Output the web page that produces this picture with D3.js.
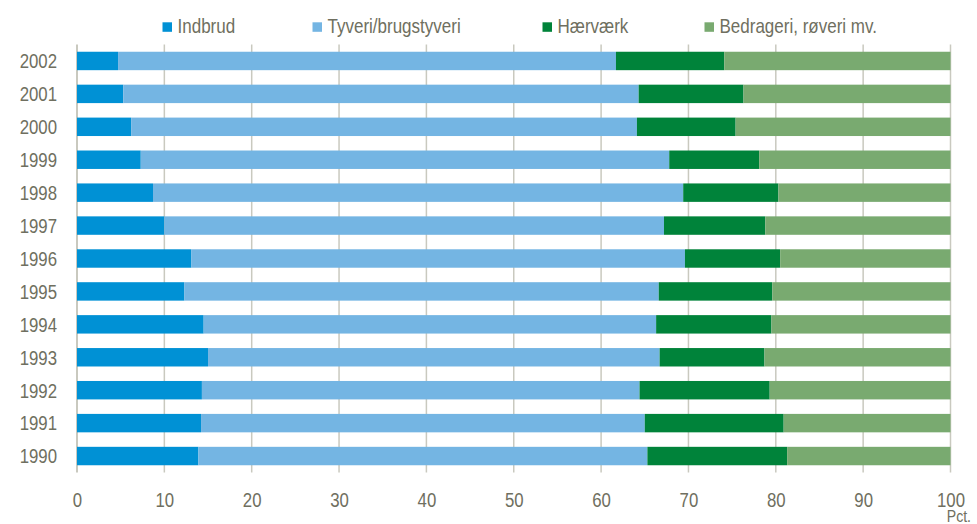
<!DOCTYPE html>
<html>
<head>
<meta charset="utf-8">
<script src="https://cdn.jsdelivr.net/npm/d3@7"></script>
<style>
  html, body { margin: 0; padding: 0; background: #fff; }
  svg { display: block; font-family: "Liberation Sans", Arial, sans-serif; }
  .tick text, .legend text, .unit { fill: #6f6f60; }
</style>
</head>
<body>
<svg id="chart" width="977" height="524"></svg>
<script>
const years = ['2002', '2001', '2000', '1999', '1998', '1997', '1996', '1995', '1994', '1993', '1992', '1991', '1990']
const seriesNames = ['Indbrud', 'Tyveri/brugstyveri', 'Hærværk', 'Bedrageri, røveri mv.']
const indbrud   = [4.7, 5.3, 6.2, 7.3, 8.7, 10.0, 13.1, 12.3, 14.5, 15.0, 14.3, 14.2, 13.9]
const tyveri    = [57.0, 59.0, 57.9, 60.5, 60.7, 57.2, 56.5, 54.3, 51.8, 51.7, 50.1, 50.8, 51.4]
const haervaerk = [12.4, 12.0, 11.3, 10.3, 10.9, 11.6, 10.9, 13.0, 13.2, 12.0, 14.9, 15.9, 16.0]
const bedrageri = [25.9, 23.7, 24.6, 21.9, 19.7, 21.2, 19.5, 20.4, 20.5, 21.3, 20.7, 19.1, 18.7]
const xTicks = [0, 10, 20, 30, 40, 50, 60, 70, 80, 90, 100]
const colors = ['#0091d5', '#74b5e3', '#00833a', '#79aa70']

const rows = years.map((y, i) => ({
  year: y,
  [seriesNames[0]]: indbrud[i],
  [seriesNames[1]]: tyveri[i],
  [seriesNames[2]]: haervaerk[i],
  [seriesNames[3]]: bedrageri[i],
}))

const svg = d3.select('#chart')
const margin = { top: 44.5, left: 77, right: 26.5, bottom: 51.5 }
const width = 977, height = 524
const innerW = width - margin.left - margin.right
const innerH = height - margin.top - margin.bottom
const squeeze = 0.8 // reference uses a narrow face; emulate by horizontal scaling

const x = d3.scaleLinear().domain([0, 100]).range([0, innerW])
const y = d3.scaleBand().domain(years).range([0, innerH]).paddingInner(0.44).paddingOuter(0.22)

const g = svg.append('g').attr('transform', `translate(${margin.left},${margin.top})`)

// Grid lines
g.append('g')
  .selectAll('line')
  .data(xTicks)
  .join('line')
  .attr('x1', (d) => x(d)).attr('x2', (d) => x(d))
  .attr('y1', 0).attr('y2', innerH)
  .attr('stroke', '#c9c9bf')
  .attr('stroke-width', (d) => (d === 0 ? 2 : 1.5))

// Stacked bars
const stack = d3.stack().keys(seriesNames)(rows)
g.selectAll('.layer')
  .data(stack)
  .join('g')
  .attr('class', 'layer')
  .attr('fill', (d, i) => colors[i])
  .selectAll('rect')
  .data((d) => d)
  .join('rect')
  .attr('x', (d) => x(d[0]))
  .attr('y', (d) => y(d.data.year))
  .attr('width', (d) => x(d[1]) - x(d[0]))
  .attr('height', y.bandwidth())

// Y axis (years)
const yAxis = g.append('g')
  .call(d3.axisLeft(y).tickSize(0))
yAxis.select('.domain').remove()
yAxis.selectAll('text')
  .attr('font-size', 21).attr('font-family', 'inherit')
  .attr('x', 0).attr('dy', '0.35em')
  .attr('transform', `translate(-20,0) scale(${squeeze},1)`)

// X axis
const xAxis = g.append('g')
  .attr('transform', `translate(0,${innerH})`)
  .call(d3.axisBottom(x).tickValues(xTicks).tickSize(0))
xAxis.select('.domain').remove()
xAxis.selectAll('text')
  .attr('font-size', 21).attr('font-family', 'inherit')
  .attr('y', 0).attr('dy', 0)
  .attr('transform', `translate(0,34.5) scale(${squeeze},1)`)

svg.append('text')
  .attr('class', 'unit')
  .attr('text-anchor', 'end')
  .attr('font-size', 16)
  .attr('transform', `translate(971,522) scale(0.88,1)`)
  .text('Pct.')

// Legend
const legendX = [162.5, 312.5, 542.5, 704.5]
const legend = svg.append('g').attr('class', 'legend')
  .selectAll('g')
  .data(seriesNames)
  .join('g')
  .attr('transform', (d, i) => `translate(${legendX[i]},0)`)
legend.append('rect')
  .attr('y', 22.3).attr('width', 9.5).attr('height', 9.5)
  .attr('fill', (d, i) => colors[i])
legend.append('text')
  .attr('font-size', 21)
  .attr('transform', `translate(15,33) scale(0.81,1)`)
  .text((d) => d)
</script>
</body>
</html>
